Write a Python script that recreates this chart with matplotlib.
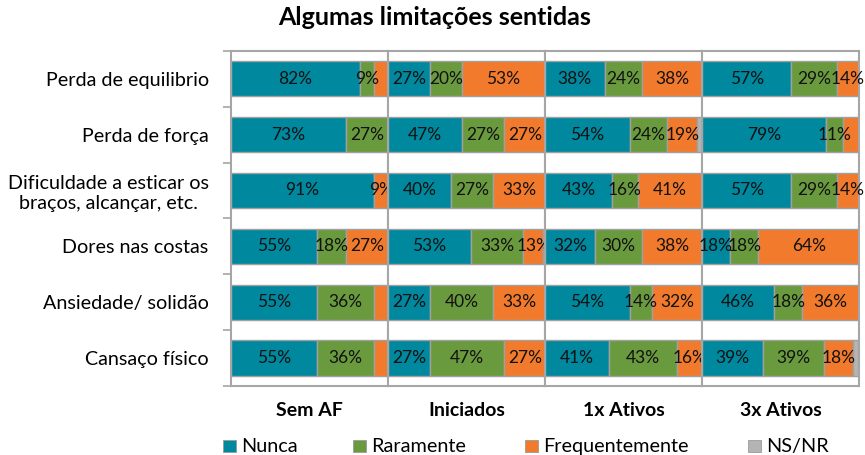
import matplotlib.pyplot as plt
from matplotlib.patches import Rectangle
import numpy as np

plt.rcParams['font.family'] = ['Lato', 'DejaVu Sans']

# Data
rows = ["Perda de equilibrio", "Perda de força",
        "Dificuldade a esticar os\nbraços, alcançar, etc.",
        "Dores nas costas", "Ansiedade/ solidão", "Cansaço físico"]
groups = ["Sem AF", "Iniciados", "1x Ativos", "3x Ativos"]
series = ["Nunca", "Raramente", "Frequentemente", "NS/NR"]
colors = ["#00889E", "#6A9A3E", "#F27A2C", "#B4B4B4"]

# values per group: rows x [Nunca, Raramente, Frequentemente, NS/NR]
sem_af = [[82, 9, 9, 0], [73, 27, 0, 0], [91, 0, 9, 0],
          [55, 18, 27, 0], [55, 36, 9, 0], [55, 36, 9, 0]]
iniciados = [[27, 20, 53, 0], [47, 27, 27, 0], [40, 27, 33, 0],
             [53, 33, 13, 0], [27, 40, 33, 0], [27, 47, 27, 0]]
ativos_1x = [[38, 24, 38, 0], [54, 24, 19, 3], [43, 16, 41, 0],
             [32, 30, 38, 0], [54, 14, 32, 0], [41, 43, 16, 0]]
ativos_3x = [[57, 29, 14, 0], [79, 11, 11, 0], [57, 29, 14, 0],
             [18, 18, 64, 0], [46, 18, 36, 0], [39, 39, 18, 4]]
group_data = [sem_af, iniciados, ativos_1x, ativos_3x]

# labels that are not shown in the original (group, row, series)
hidden = {(0, 0, 2), (0, 4, 2), (0, 5, 2), (3, 1, 2)}

fig = plt.figure(figsize=(8.65, 4.55), dpi=100)
left, right, bottom, top = 0.267, 0.993, 0.152, 0.888
w = (right - left) / 4
axes = [fig.add_axes([left + i * w, bottom, w, top - bottom]) for i in range(4)]

y = np.arange(len(rows))
for gi, ax in enumerate(axes):
    vals = np.array(group_data[gi], dtype=float) / 100
    cum = np.zeros(len(rows))
    for si in range(len(series)):
        ax.barh(y, vals[:, si], left=cum, height=0.63, color=colors[si],
                edgecolor="#A0A0A0", linewidth=1)
        for ri in range(len(rows)):
            v = group_data[gi][ri][si]
            if v > 0 and si < 3 and (gi, ri, si) not in hidden:
                ax.text(cum[ri] + vals[ri, si] / 2, y[ri], f"{v}%",
                        ha="center", va="center", fontsize=12.5, color="#111111")
        cum += vals[:, si]
    ax.set_xlim(0, 1)
    ax.set_ylim(len(rows) - 0.5, -0.5)
    ax.set_xticks([])
    for s in ax.spines.values():
        s.set_color("#A6A6A6")
        s.set_linewidth(1.5)
    ax.text(0.5, -0.075, groups[gi], transform=ax.transAxes, ha="center",
            va="center", fontsize=14, fontweight="bold")
    if gi == 0:
        ax.set_yticks(y)
        ax.set_yticklabels(rows, fontsize=14.2, multialignment="center")
        ax.tick_params(axis="y", which="major", length=0, pad=16)
        ax.set_yticks(np.arange(len(rows) + 1) - 0.5, minor=True)
        ax.tick_params(axis="y", which="minor", length=6, color="#A6A6A6", width=1.2)
    else:
        ax.set_yticks([])

fig.text(0.502, 0.962, "Algumas limitações sentidas", ha="center", va="center",
         fontsize=18, fontweight="bold")

# legend
leg_x = [0.258, 0.408, 0.607, 0.865]
for x0, name, c in zip(leg_x, series, colors):
    fig.add_artist(Rectangle((x0, 0.006), 0.015, 0.028, transform=fig.transFigure,
                             facecolor=c, edgecolor="#9A9A9A", linewidth=0.6))
    fig.text(x0 + 0.021, 0.019, name, ha="left", va="center", fontsize=14.3)

fig.savefig("out.png", dpi=100)
